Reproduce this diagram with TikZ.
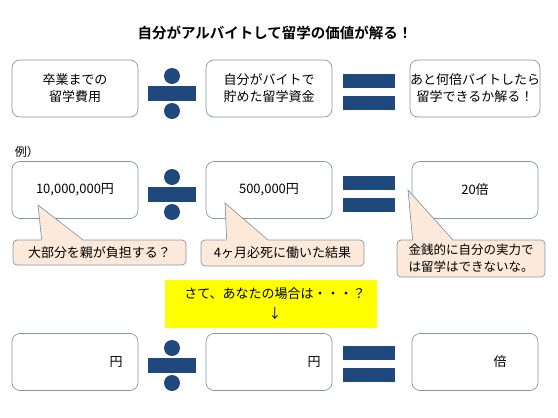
\documentclass[tikz,border=0pt]{standalone}
\usepackage{fontspec}
\setmainfont{Noto Sans CJK JP}[BoldFont={Noto Sans CJK JP Bold}]
\usepackage{tikz}
\usetikzlibrary{calc,positioning}
\definecolor{opblue}{RGB}{31,73,125}
\definecolor{edgegray}{RGB}{135,150,165}
\definecolor{peach}{RGB}{253,233,217}
\definecolor{hiyellow}{RGB}{255,255,0}
\tikzset{box/.style={draw=edgegray,line width=0.7pt,rounded corners=8pt,fill=white,align=center,
    minimum width=126pt,minimum height=57pt,inner sep=0pt},
  callout/.style={draw=edgegray,line width=0.7pt,rounded corners=4pt,fill=peach,align=center,inner sep=0pt},
  opfill/.style={fill=opblue}}
\newcommand{\divsign}[2]{% center x, bar center y
  \fill[opblue] (#1,#2-17.5) circle (8);
  \fill[opblue] (#1-24,#2-7.5) rectangle (#1+24,#2+7.5);
  \fill[opblue] (#1,#2+17.5) circle (8);}
\newcommand{\eqsign}[2]{% center x, center y
  \fill[opblue] (#1-26,#2-18) rectangle (#1+26,#2-4);
  \fill[opblue] (#1-26,#2+4) rectangle (#1+26,#2+18);}

\begin{document}
\begin{tikzpicture}[x=1pt,y=-1pt,font=\fontsize{13}{17}\selectfont]
\useasboundingbox (0,0) rectangle (558,418);
\node[font=\fontsize{14.5}{17}\selectfont\bfseries] (title) at (275,33) {自分がアルバイトして留学の価値が解る！};
% definition row
\node[box] (cost) at (75,88.5) {卒業までの\\留学費用};
\node[box] (fund) at (269,88.5) {自分がバイトで\\貯めた留学資金};
\node[box] (times) at (475,88.5) {あと何倍バイトしたら\\留学できるか解る！};
\divsign{172}{93.5}
\eqsign{369}{91.5}
% example row
\node[font=\fontsize{12}{14}\selectfont] (ex) at (27,152) {例）};
\node[box] (excost) at (75,190) {10,000,000円};
\node[box] (exfund) at (269,190) {500,000円};
\node[box] (extimes) at (475,190) {20倍};
\divsign{172}{194.5}
\eqsign{369}{194}
\node[callout,minimum width=173pt,minimum height=25pt] (c1) at (99.5,252.5) {大部分を親が負担する？};
\node[callout,minimum width=163pt,minimum height=26pt] (c2) at (282.5,253) {4ヶ月必死に働いた結果};
\node[callout,minimum width=148pt,minimum height=37pt,font=\fontsize{12.5}{17}\selectfont] (c3) at (471,258.5) {金銭的に自分の実力で\\は留学はできないな。};
\foreach \n/\tx/\ty/\ax/\bx in {c1/38/205/29/70,c2/225/203/26/67,c3/408/190/16/56}{
  \coordinate (\n tip) at (\tx,\ty);
  \fill[peach] ([xshift=\ax pt,yshift=-1.2pt]\n.north west) -- (\n tip) -- ([xshift=\bx pt,yshift=-1.2pt]\n.north west) -- cycle;
  \draw[edgegray,line width=0.7pt] ([xshift=\ax pt]\n.north west) -- (\n tip) -- ([xshift=\bx pt]\n.north west);
}
% your case
\node[fill=hiyellow,minimum width=212pt,minimum height=48pt,inner sep=0pt,align=center,
  font=\fontsize{13}{20}\selectfont] (ask) at (271,304) {\hspace*{8pt}さて、あなたの場合は・・・？\\\hspace*{8pt}↓};
\node[box] (mycost) at (75,362) {};
\node[box] (myfund) at (269,362) {};
\node[box] (mytimes) at (475,362) {};
\node (yen1) at (116,362) {円};
\node (yen2) at (314,362) {円};
\node (bai) at (500,362) {倍};
\divsign{172}{365.5}
\eqsign{369}{364}
\end{tikzpicture}
\end{document}
